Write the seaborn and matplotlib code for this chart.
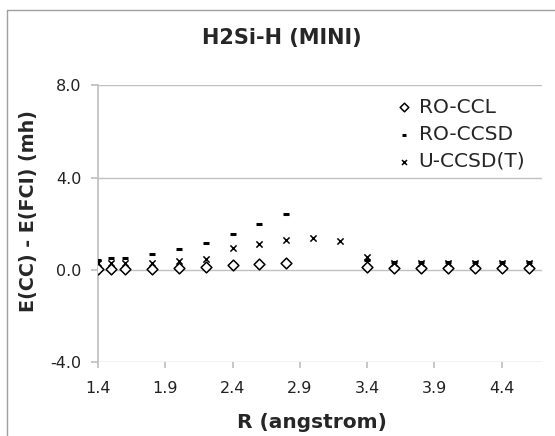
import numpy as np
import pandas as pd
import matplotlib
matplotlib.use("Agg")
import matplotlib.pyplot as plt
import seaborn as sns
from matplotlib.lines import Line2D

sns.set_theme(style="white")
plt.rcParams["font.family"] = ["DejaVu Sans"]

# ---------- data ----------
r_vals = [1.4, 1.5, 1.6, 1.8, 2.0, 2.2, 2.4, 2.6, 2.8, 3.0, 3.2, 3.4, 3.6, 3.8, 4.0, 4.2, 4.4, 4.6]
ro_ccl = [0.05, 0.05, 0.05, 0.05, 0.1, 0.15, 0.2, 0.25, 0.3, np.nan, np.nan, 0.12, 0.08, 0.08, 0.08, 0.08, 0.08, 0.08]
ro_ccsd = [0.45, 0.5, 0.54, 0.69, 0.91, 1.18, 1.56, 2.0, 2.42, np.nan, np.nan, 0.45, 0.33, 0.33, 0.33, 0.33, 0.33, 0.33]
u_ccsdt = [0.3, 0.29, 0.29, 0.3, 0.39, 0.48, 0.97, 1.11, 1.3, 1.37, 1.27, 0.55, 0.3, 0.3, 0.3, 0.3, 0.3, 0.3]
x_ticks = [1.4, 1.9, 2.4, 2.9, 3.4, 3.9, 4.4]
y_ticks = [-4.0, 0.0, 4.0, 8.0]

df = pd.DataFrame({"R": r_vals, "RO-CCL": ro_ccl, "RO-CCSD": ro_ccsd, "U-CCSD(T)": u_ccsdt})

fig = plt.figure(figsize=(5.55, 4.36), dpi=100)
ax = fig.add_axes([0.1766, 0.1686, 0.80, 0.6364])

sns.scatterplot(data=df, x="R", y="RO-CCL", ax=ax, marker="D", s=30,
                facecolor="white", edgecolor="black", linewidth=1.1, label="RO-CCL", zorder=3)
sns.scatterplot(data=df, x="R", y="RO-CCSD", ax=ax, marker="_", s=20,
                color="black", linewidth=2.2, label="RO-CCSD", zorder=4)
sns.scatterplot(data=df, x="R", y="U-CCSD(T)", ax=ax, marker="x", s=20,
                color="black", linewidth=1.1, label="U-CCSD(T)", zorder=4)

ax.set_xlim(1.4, 4.7)
ax.set_ylim(-4.0, 8.0)
ax.set_xticks(x_ticks)
ax.set_yticks(y_ticks)
ax.set_xticklabels([f"{v:.1f}" for v in x_ticks], fontsize=11.5)
ax.set_yticklabels([f"{v:.1f}" for v in y_ticks], fontsize=11.5)
ax.yaxis.grid(True, color="#c0c0c0", linewidth=1)
ax.xaxis.grid(False)
for side in ["top", "right", "bottom"]:
    ax.spines[side].set_visible(False)
ax.spines["left"].set_color("#c0c0c0")
ax.tick_params(axis="x", length=4, color="#c0c0c0", direction="out", bottom=True,
               pad=9, labelcolor="#222222")
ax.tick_params(axis="y", length=5, color="#c0c0c0", direction="out", left=True,
               pad=7, labelcolor="#222222")

ax.set_xlabel("R (angstrom)", fontsize=14.5, fontweight="bold")
ax.xaxis.set_label_coords((312 - 98) / 444, (362.5 - 423) / 277.5)
ax.set_ylabel("E(CC) - E(FCI) (mh)", fontsize=13.8, fontweight="bold")
ax.yaxis.set_label_coords((28 - 98) / 444, (362.5 - 211) / 277.5)
ax.xaxis.label.set_va("center")
ax.yaxis.label.set_va("center")
fig.text(282 / 555, 1 - 38 / 436, "H2Si-H (MINI)", fontsize=15, fontweight="bold",
         ha="center", va="center")

ax.legend(loc="upper left", bbox_to_anchor=(0.67, 0.954), frameon=False, fontsize=14.5,
          handletextpad=0.35, labelspacing=0.4, handlelength=0.8, borderaxespad=0,
          borderpad=0, markerscale=0.8)

# chart-area border (only top and left edges are visible in the crop)
fig.add_artist(Line2D([0.012, 1.0], [0.977, 0.977], transform=fig.transFigure,
                      color="#a0a0a0", linewidth=1))
fig.add_artist(Line2D([0.012, 0.012], [0.0, 0.977], transform=fig.transFigure,
                      color="#a0a0a0", linewidth=1))

fig.savefig("out.png", dpi=100)
